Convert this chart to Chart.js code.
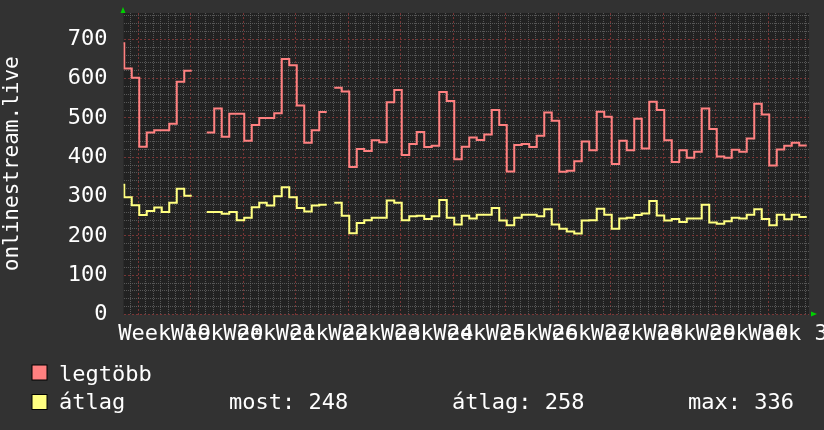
<!DOCTYPE html>
<html>
<head>
<meta charset="utf-8">
<script src="https://cdn.jsdelivr.net/npm/chart.js@4.4.1/dist/chart.umd.min.js"></script>
<style>
html, body { margin: 0; padding: 0; background: #323232; }
</style>
</head>
<body>
<canvas id="chart" width="824" height="430"></canvas>
<script>
// napi értékek; index 0 = a 19. hét hétfője előtti 3. nap (csak a bal szélen látszik)
const firstDay = -3;
const legtobb = [
    690,
    626, 602, 427, 463, 469, 469, 485, 592, 620, null,
    null, 463, 524, 452, 511, 511, 442, 482, 500, 500,
    512, 650, 634, 532, 437, 469, 515, null, 577, 567,
    375, 421, 416, 443, 438, 540, 571, 406, 434, 464,
    426, 429, 566, 543, 395, 427, 450, 444, 458, 520,
    482, 364, 431, 434, 426, 455, 514, 493, 363, 366,
    390, 440, 418, 516, 503, 383, 442, 418, 498, 422,
    541, 520, 443, 388, 418, 399, 414, 524, 472, 402,
    399, 419, 414, 448, 536, 509, 379, 420, 429, 437,
    430
];
const atlag = [
    330,
    298, 278, 253, 263, 272, 261, 284, 320, 302, null,
    null, 261, 261, 256, 261, 240, 246, 273, 284, 277,
    301, 324, 298, 271, 262, 277, 279, null, 284, 251,
    207, 233, 240, 246, 246, 290, 284, 240, 250, 251,
    243, 250, 291, 246, 229, 251, 244, 254, 254, 271,
    239, 227, 246, 254, 254, 250, 268, 229, 218, 211,
    206, 239, 240, 269, 254, 218, 244, 246, 253, 257,
    289, 252, 239, 243, 235, 244, 244, 279, 234, 231,
    237, 246, 244, 254, 268, 243, 227, 254, 242, 254,
    248
];
const weekLabels = ['Week 19', 'Week 20', 'Week 21', 'Week 22', 'Week 23', 'Week 24', 'Week 25',
    'Week 26', 'Week 27', 'Week 28', 'Week 29', 'Week 30', 'Week 31'];
const yLabelValues = [0, 100, 200, 300, 400, 500, 600, 700];
const stats = ['most: 248', 'átlag: 258', 'max: 336'];

const FONT = 'DejaVu Sans Mono';
const RED = '#ff8080';
const YELLOW = '#ffff80';
const MINOR = 'rgba(105,105,105,0.75)';
const MAJOR = 'rgba(130,55,55,0.9)';

// lépcsős vonal: minden nap a saját intervallumát fedi le
const toSteps = (values) => {
    const pts = [];
    values.forEach((v, i) => {
        const x = firstDay + i + 0.13;
        if (v === null) {
            pts.push({x: x, y: null});
            return;
        }
        pts.push({x: x, y: v});
        const next = values[i + 1];
        if (next === null || next === undefined) pts.push({x: x + 1, y: v});
    });
    return pts;
};

const backdrop = {
    id: 'backdrop',
    beforeDraw(chart) {
        const {ctx, chartArea} = chart;
        ctx.save();
        ctx.fillStyle = '#323232';
        ctx.fillRect(0, 0, chart.width, chart.height);
        ctx.fillStyle = '#222222';
        ctx.fillRect(chartArea.left, chartArea.top, chartArea.right - chartArea.left, chartArea.bottom - chartArea.top);
        ctx.restore();
    }
};

const rrdLegend = {
    id: 'rrdLegend',
    afterDraw(chart) {
        const {ctx, chartArea} = chart;
        ctx.save();
        // zöld nyilak a tengelyek végén
        ctx.fillStyle = '#00d000';
        ctx.beginPath();
        ctx.moveTo(chartArea.left - 3, 13);
        ctx.lineTo(chartArea.left + 2, 13);
        ctx.lineTo(chartArea.left - 0.5, 7);
        ctx.fill();
        ctx.beginPath();
        ctx.moveTo(chartArea.right + 2, chartArea.bottom - 3);
        ctx.lineTo(chartArea.right + 2, chartArea.bottom + 2);
        ctx.lineTo(chartArea.right + 8, chartArea.bottom - 0.5);
        ctx.fill();

        ctx.font = '22px "' + FONT + '"';
        ctx.textBaseline = 'alphabetic';
        ctx.textAlign = 'left';
        const rows = [
            {label: 'legtöbb', color: RED, top: 365, base: 381},
            {label: 'átlag', color: YELLOW, top: 394.5, base: 409}
        ];
        rows.forEach(r => {
            ctx.fillStyle = r.color;
            ctx.fillRect(32, r.top, 15, 15);
            ctx.strokeStyle = '#000';
            ctx.lineWidth = 1;
            ctx.strokeRect(32, r.top, 15, 15);
            ctx.fillStyle = '#ffffff';
            ctx.fillText(r.label, 59, r.base);
        });
        ctx.fillText(stats[0], 229, 409);
        ctx.fillText(stats[1], 452, 409);
        ctx.fillText(stats[2], 688, 409);
        ctx.restore();
    }
};

const isWeekCenter = (v) => (v - 3.5) % 7 === 0 && v >= 3.5;

new Chart(document.getElementById('chart'), {
    type: 'line',
    data: {
        datasets: [
            {
                label: 'legtöbb',
                data: toSteps(legtobb),
                borderColor: RED,
                borderWidth: 2,
                stepped: true,
                pointRadius: 0,
                spanGaps: false,
                fill: false
            },
            {
                label: 'átlag',
                data: toSteps(atlag),
                borderColor: YELLOW,
                borderWidth: 2,
                stepped: true,
                pointRadius: 0,
                spanGaps: false,
                fill: false
            }
        ]
    },
    options: {
        responsive: false,
        animation: false,
        devicePixelRatio: 1,
        layout: { padding: { left: 0, right: 15, top: 13, bottom: 0 } },
        plugins: {
            legend: { display: false },
            tooltip: { enabled: false }
        },
        scales: {
            x: {
                type: 'linear',
                min: -1.97,
                max: 89.43,
                afterBuildTicks: (scale) => {
                    const ticks = [];
                    for (let v = -1.5; v <= 89; v += 0.5) ticks.push({value: v});
                    scale.ticks = ticks;
                },
                afterFit: (scale) => {
                    scale.height = 115.5;
                    scale.paddingLeft = 0;
                    scale.paddingRight = 0;
                },
                ticks: {
                    autoSkip: false,
                    maxRotation: 0,
                    minRotation: 0,
                    color: '#ffffff',
                    padding: 7,
                    font: { family: FONT, size: 22 },
                    callback: (value) => isWeekCenter(value) ? weekLabels[(value - 3.5) / 7] : ''
                },
                grid: {
                    drawTicks: false,
                    color: (c) => {
                        const v = c.tick ? c.tick.value : 0.5;
                        if (v % 1 !== 0) return 'rgba(0,0,0,0)';
                        return v % 7 === 0 ? MAJOR : MINOR;
                    }
                },
                border: {
                    display: false,
                    dash: (c) => (c.tick && c.tick.value % 7 === 0) ? [2, 2] : [1, 1]
                }
            },
            y: {
                min: 0,
                max: 767,
                afterBuildTicks: (scale) => {
                    const ticks = [];
                    for (let v = 0; v <= 760; v += 20) ticks.push({value: v});
                    scale.ticks = ticks;
                },
                afterFit: (scale) => {
                    scale.width = 123.5;
                    scale.paddingTop = 0;
                    scale.paddingBottom = 0;
                },
                title: {
                    display: true,
                    text: 'onlinestream.live',
                    color: '#ffffff',
                    font: { family: FONT, size: 21 },
                    padding: 0
                },
                ticks: {
                    autoSkip: false,
                    color: '#ffffff',
                    padding: 16,
                    font: { family: FONT, size: 22 },
                    callback: (value) => yLabelValues.includes(value) ? String(value) : ''
                },
                grid: {
                    drawTicks: false,
                    color: (c) => (c.tick && c.tick.value % 100 === 0) ? MAJOR : MINOR
                },
                border: {
                    display: false,
                    dash: (c) => (c.tick && c.tick.value % 100 === 0) ? [2, 2] : [1, 1]
                }
            }
        }
    },
    plugins: [backdrop, rrdLegend]
});
</script>
</body>
</html>
